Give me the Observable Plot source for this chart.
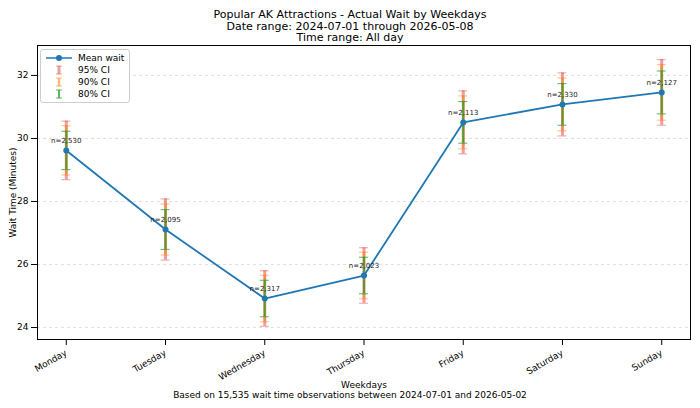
<!DOCTYPE html>
<html><head><meta charset="utf-8">
<script src="https://cdn.jsdelivr.net/npm/d3@7"></script>
<script src="https://cdn.jsdelivr.net/npm/@observablehq/plot@0.6"></script>
<style>
body{margin:0;font-family:"DejaVu Sans",sans-serif;background:#fff;width:700px;height:408px;overflow:hidden;position:relative}
#title{text-align:center;font-size:11px;line-height:11.5px;padding-top:9px;height:36px;color:#000}
#cap{position:absolute;top:390px;width:700px;text-align:center;font-size:9px}
#leg{position:absolute;left:40px;top:49px;border:1px solid #ccc;border-radius:3px;background:rgba(255,255,255,.85);font-size:9px;padding:2px 5px;line-height:12px}
#leg div{display:flex;align-items:center;gap:6px}
#leg svg{width:26px;height:10px}
</style></head><body>
<div id="title">Popular AK Attractions - Actual Wait by Weekdays<br>Date range: 2024-07-01 through 2026-05-08<br>Time range: All day</div>
<div id="chart"></div>
<div id="leg">
<div><svg><line x1="0" x2="26" y1="5" y2="5" stroke="#1f77b4" stroke-width="1.5"/><circle cx="13" cy="5" r="3" fill="#1f77b4"/></svg>Mean wait</div>
<div><svg><line x1="13" x2="13" y1="1" y2="9" stroke="#d62728" stroke-opacity=".45" stroke-width="3"/><line x1="10" x2="16" y1="1" y2="1" stroke="#d62728" stroke-opacity=".45"/><line x1="10" x2="16" y1="9" y2="9" stroke="#d62728" stroke-opacity=".45"/></svg>95% CI</div>
<div><svg><line x1="13" x2="13" y1="1" y2="9" stroke="#ff7f0e" stroke-opacity=".55" stroke-width="2.5"/><line x1="10" x2="16" y1="1" y2="1" stroke="#ff7f0e" stroke-opacity=".55"/><line x1="10" x2="16" y1="9" y2="9" stroke="#ff7f0e" stroke-opacity=".55"/></svg>90% CI</div>
<div><svg><line x1="13" x2="13" y1="1" y2="9" stroke="#2ca02c" stroke-opacity=".75" stroke-width="2"/><line x1="10" x2="16" y1="1" y2="1" stroke="#2ca02c" stroke-opacity=".75"/><line x1="10" x2="16" y1="9" y2="9" stroke="#2ca02c" stroke-opacity=".75"/></svg>80% CI</div>
</div>
<div id="cap">Based on 15,535 wait time observations between 2024-07-01 and 2026-05-02</div>
<script>
const days = ["Monday","Tuesday","Wednesday","Thursday","Friday","Saturday","Sunday"];
const means = [29.62, 27.11, 24.92, 25.65, 30.51, 31.08, 31.46];
const ci95 = [0.93, 0.97, 0.88, 0.88, 1.0, 1.0, 1.04];
const ci90 = [0.78, 0.81, 0.74, 0.74, 0.84, 0.84, 0.88];
const ci80 = [0.61, 0.63, 0.58, 0.58, 0.66, 0.66, 0.68];
const counts = ["n=2,530","n=2,095","n=2,317","n=2,023","n=2,113","n=2,330","n=2,127"];
const yTicks = [24, 26, 28, 30, 32];

const data = days.map((d,i)=>({i, day:d, mean:means[i], c95:ci95[i], c90:ci90[i], c80:ci80[i], n:counts[i]}));
const cap = 0.045;
function bars(key, color, op, sw){
  return [
    Plot.ruleX(data,{x:"i", y1:d=>d.mean-d[key], y2:d=>d.mean+d[key], stroke:color, strokeOpacity:op, strokeWidth:sw}),
    Plot.ruleY(data,{y:d=>d.mean-d[key], x1:d=>d.i-cap, x2:d=>d.i+cap, stroke:color, strokeOpacity:op}),
    Plot.ruleY(data,{y:d=>d.mean+d[key], x1:d=>d.i-cap, x2:d=>d.i+cap, stroke:color, strokeOpacity:op})
  ];
}
const plot = Plot.plot({
  width:700, height:345, marginTop:0, marginLeft:37, marginRight:10, marginBottom:51,
  style:{fontFamily:"DejaVu Sans", fontSize:"9px", color:"#000"},
  x:{domain:[-0.29,6.29], ticks:d3.range(7), tickFormat:i=>days[i], tickRotate:-30, label:"Weekdays", labelAnchor:"center", labelArrow:"none", labelOffset:48},
  y:{domain:[23.62,32.95], ticks:yTicks, tickFormat:d=>String(d), label:"Wait Time (Minutes)", labelAnchor:"center", labelArrow:"none", labelOffset:28},
  marks:[
    Plot.gridY(yTicks,{stroke:"#ccc", strokeOpacity:0.6, strokeDasharray:"3,3"}),
    ...bars("c95","#d62728",0.45,3),
    ...bars("c90","#ff7f0e",0.55,2.5),
    ...bars("c80","#2ca02c",0.8,2),
    Plot.line(data,{x:"i", y:"mean", stroke:"#1f77b4", strokeWidth:1.8}),
    Plot.dot(data,{x:"i", y:"mean", fill:"#1f77b4", r:3}),
    Plot.text(data,{x:"i", y:"mean", text:"n", dy:-10, fontSize:7, fill:"#222"}),
    Plot.frame({stroke:"#000"})
  ]
});
document.getElementById("chart").append(plot);
</script>
</body></html>
